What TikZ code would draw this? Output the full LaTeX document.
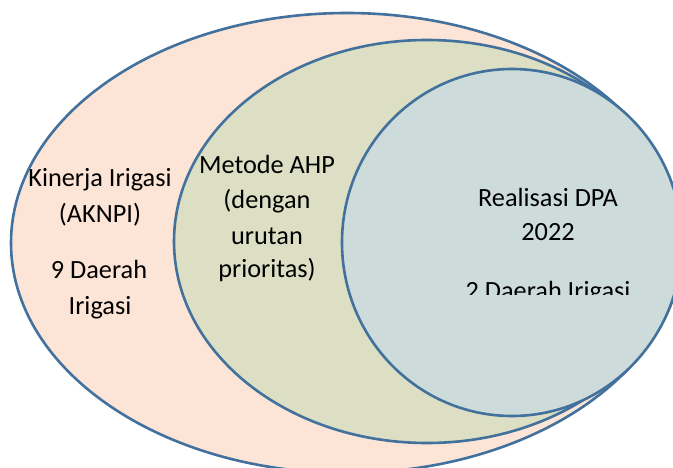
\documentclass[tikz,border=0pt]{standalone}
\usepackage{fontspec}
\setmainfont{Carlito}
\definecolor{outerfill}{HTML}{FCE4D6}
\definecolor{midfill}{HTML}{DDDFC4}
\definecolor{innerfill}{HTML}{CDDCDA}
\definecolor{edge}{HTML}{41719C}
\begin{document}
\begin{tikzpicture}[x=1pt,y=-1pt,
  ring/.style={draw=edge,line width=2.6pt},
  lbl/.style={anchor=base,inner sep=0pt,font=\fontsize{26.3}{34}\selectfont,text=black}]
\useasboundingbox (0,0) rectangle (673,468);
\clip (0,0) rectangle (673,468);
\fill[white] (0,0) rectangle (673,468);
\draw[ring,fill=outerfill] (347,243) ellipse [x radius=336,y radius=230];
\draw[ring,fill=midfill] (427,241.5) ellipse [x radius=253,y radius=201.5];
\draw[ring,fill=innerfill] (512,242.5) ellipse [x radius=170,y radius=173.5];
% left labels
\node[lbl] (k1) at (100,187) {Kinerja Irigasi};
\node[lbl] (k2) at (100,223) {(AKNPI)};
\node[lbl] (k3) at (99,279) {9 Daerah};
\node[lbl] (k4) at (100,314) {Irigasi};
% middle labels
\node[lbl] (m1) at (267,174) {Metode AHP};
\node[lbl] (m2) at (267,209) {(dengan};
\node[lbl] (m3) at (267,244) {urutan};
\node[lbl] (m4) at (267,278) {prioritas)};
% inner labels
\node[lbl] (r1) at (548,207) {Realisasi DPA};
\node[lbl] (r2) at (548,241) {2022};
\begin{scope}
\clip (300,250) rectangle (673,294.5);
\node[lbl] (r3) at (548,299) {2 Daerah Irigasi};
\end{scope}
\end{tikzpicture}
\end{document}
